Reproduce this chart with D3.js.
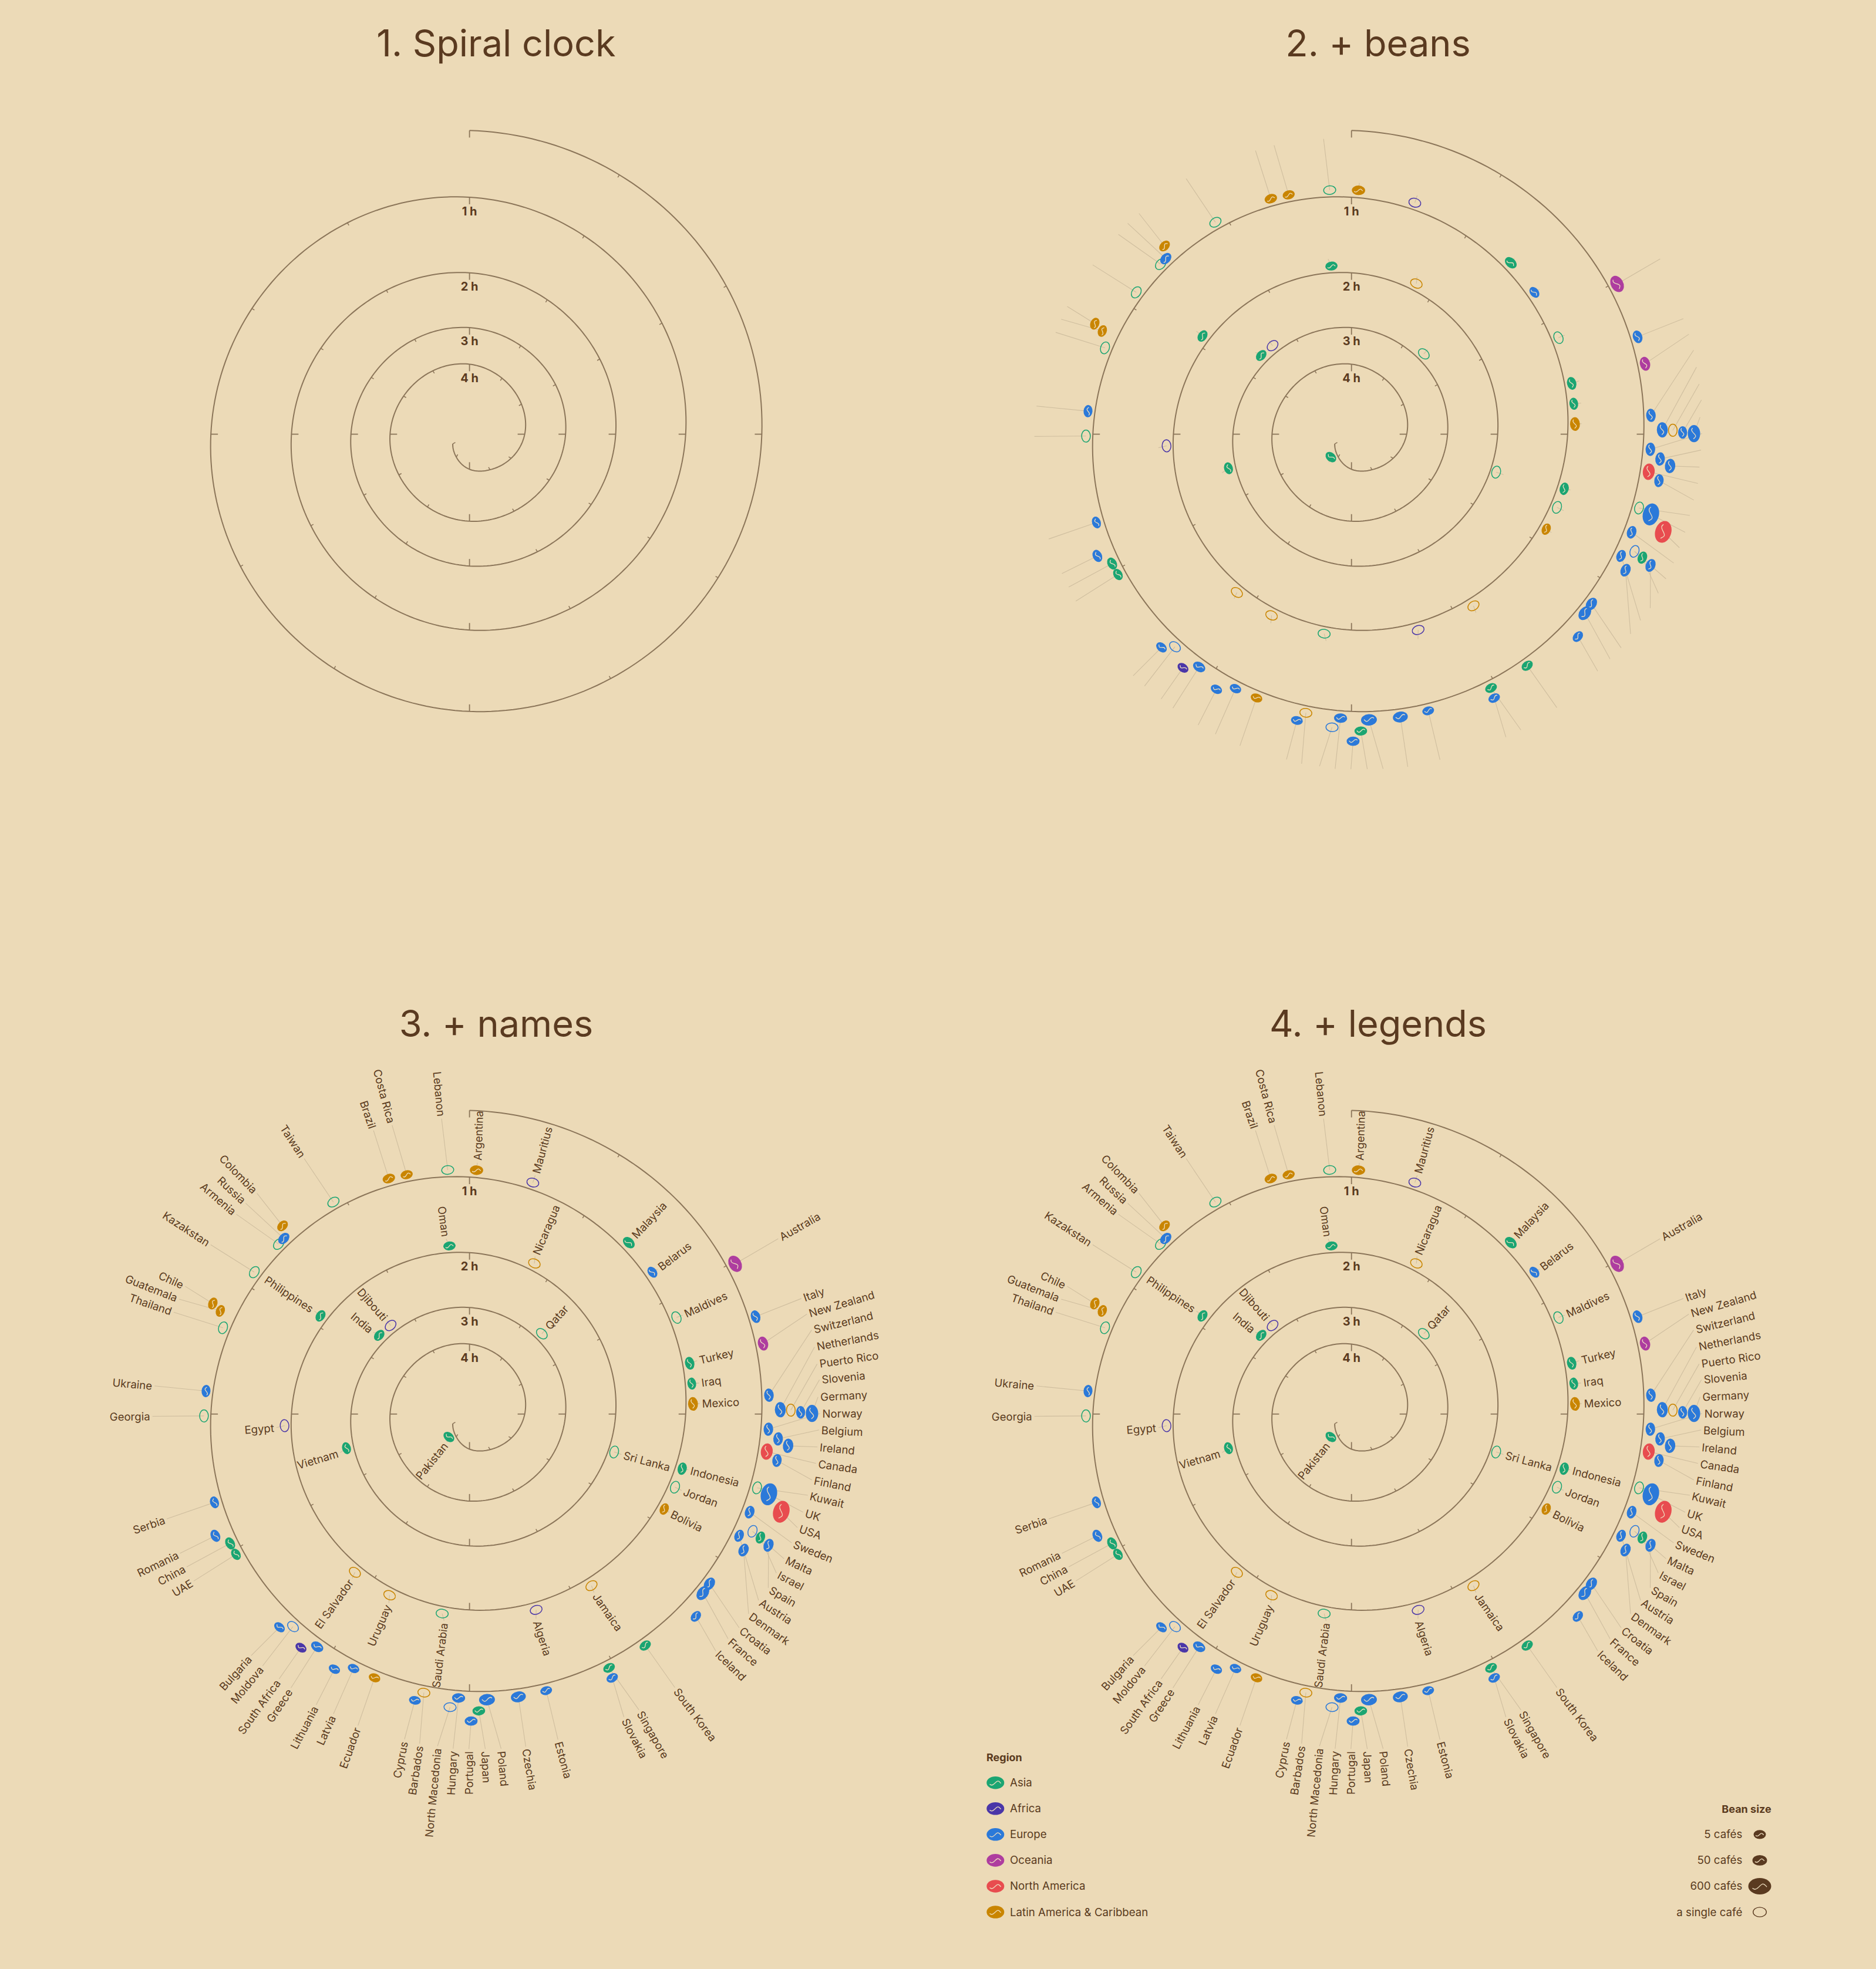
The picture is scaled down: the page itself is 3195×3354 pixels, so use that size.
<!DOCTYPE html>
<html><head><meta charset="utf-8">
<script src="https://cdn.jsdelivr.net/npm/d3@7"></script>
<style>html,body{margin:0;padding:0;background:#ecdab7}svg{display:block}text{font-family:Inter,"Noto Sans",sans-serif}</style>
</head><body><svg id="c"></svg>
<script>
// clock position of the spiral, one sample every 5 minutes (30 degrees)
const spiralRing=[517.3,509.6,505.5,498.2,488.6,480.7,472.9,461,450,441.3,427.6,415.8,
404,390,378,369,354.9,342.4,334.4,321.8,311.5,304,292,282.8,
275.7,264,255.8,249.8,238.9,230.8,225.2,215.8,207,203,192.5,186.6,
182.2,173.5,169.3,164,156.4,151,148.8,143,138.5,136,129.3,124.8,
120.1,109.9,102.1,95,82,69,61.4,43.9,32.9];
const hourLabels=["1 h","2 h","3 h","4 h"];
const titles=["1. Spiral clock","2. + beans","3. + names","4. + legends"];

const countries=["Argentina","Mauritius","Malaysia","Belarus","Australia","Maldives","Italy","New Zealand","Turkey","Iraq","Switzerland","Mexico","Netherlands","Puerto Rico","Slovenia","Germany","Norway","Belgium","Ireland","Canada","Finland","Indonesia","Kuwait","Sri Lanka","UK","USA","Sweden","Jordan","Malta","Israel","Spain","Austria","Bolivia","Denmark","Croatia","France","Iceland","South Korea","Jamaica","Singapore","Slovakia","Algeria","Estonia","Czechia","Poland","Japan","Portugal","Hungary","North Macedonia","Saudi Arabia","Barbados","Cyprus","Ecuador","Uruguay","Latvia","Lithuania","Greece","South Africa","El Salvador","Moldova","Bulgaria","Pakistan","UAE","China","Romania","Serbia","Vietnam","Egypt","Georgia","Ukraine","Thailand","Guatemala","Chile","Kazakstan","Philippines","Armenia","India","Russia","Colombia","Djibouti","Taiwan","Brazil","Costa Rica","Oman","Lebanon","Nicaragua","Qatar"];
const countryRegion=["L","F","A","E","O","A","E","O","A","A","E","L","E","L","E","E","E","E","E","N","E","A","A","A","E","N","E","A","E","A","E","E","L","E","E","E","E","A","L","A","E","F","E","E","E","A","E","E","E","A","L","E","L","L","E","E","E","F","L","E","E","A","A","A","E","E","A","F","A","E","A","L","L","A","A","A","A","E","L","F","A","L","L","A","A","L","A"];
const cafes=[18,1,18,2,158,1,12,35,12,3,18,27,70,1,7,158,18,18,44,118,12,7,1,1,540,540,12,1,1,7,18,7,2,18,27,70,3,5,1,5,3,1,2,62,93,9,12,15,1,1,1,2,2,1,2,2,15,2,1,1,2,3,3,9,9,3,3,1,1,5,1,3,5,1,5,1,5,12,5,1,1,10,5,5,1,1,1];
const beanClock=[1.65,15.3,42.9,52.2,60.5,65,71.2,76.5,77,82.2,86.4,87.4,89.2,89.3,89.7,89.9,92.9,94.6,95.7,97.2,98.6,104.4,104.4,104.7,105,107.4,109.3,109.6,112.5,113,113.7,114.3,116,116.4,125.3,127.5,131.8,142.8,144.6,151.2,151.6,161.2,164.5,170.2,176.5,178.2,179.7,182.2,183.8,187.8,189.3,190.8,199.8,203.8,204.5,207.9,213.2,215.8,215.9,219.7,221.7,222,239,241.6,244.4,250.9,254.5,266.4,269.6,275,289.3,292.5,293.3,303.4,303.4,311.7,311.1,313.4,315.2,318.3,327.3,341.1,345.3,353.2,354.9,23.3,42];
const beanRing=[415.6,408.8,398.6,394.2,519.7,388.9,514.7,514.1,384.9,382.1,511,381,529.4,547.3,564,583.3,509.7,527.3,545.3,510.3,529.6,374,505.6,254.7,527.9,556.4,505.5,371.5,521.7,538.2,556.2,503.8,369,521.1,500.6,500.9,517.2,495,358.6,493.4,511,352.3,489,488.9,487.5,505.9,523,484,500.4,343,480.9,496.5,477.5,337.3,476.3,491.7,473.8,490.7,332.8,470.6,486.4,52.5,464,463.4,479.9,459.7,217.4,315.6,452.2,450.4,444.8,459.3,476,439,303.9,435.3,204,435.3,451.8,202,429,424,421.5,288.4,417.4,279.4,184.1];
const labelClock=[1.8,15.4,42.8,52.4,60.4,65.1,70.8,73.5,76.8,82.3,76.2,87.4,79,81.8,84.4,87.2,89.9,92.6,95.4,98.1,100.9,104.3,103.5,104.9,106.4,109.1,111.8,109.8,114.7,117.4,120.2,122.8,116.2,125.6,128.4,131,133.9,143.1,145.1,150.2,153,162,164.8,170.4,174.6,177.3,180.1,182.8,185.5,187,188.6,191.3,199.7,203.1,204.4,207.8,213.1,215.7,215.5,219.4,222.1,218.9,238.8,241.6,244.3,250.9,253.4,266,269.6,275.1,289,291.6,294.2,303.2,303.6,310.6,310.4,313.3,316.1,318.5,327.1,341.3,345,352.4,354.6,22.6,42];
const labelRing=[432.2,425.7,411.8,407.9,608.6,404.3,602.5,603.2,402.3,398.6,604,396.4,602.6,602.2,602.9,598.3,601,599.9,599.3,600,597.8,388.7,596.6,271.8,596.4,595,595,387.9,593.6,592.6,592.7,589.7,383.5,588.6,590,587.5,586,586.5,374.5,584.7,583.2,370.5,578.7,578.6,576.6,575.2,574.6,574.7,572.2,358.7,571.8,569,567.7,354,565,563.9,560.9,559.6,348.1,559.2,558.6,65.3,553,551.5,551.3,549.6,233.8,333.6,544,542.6,536.8,535.8,534.8,530.8,321.2,526.9,219,527.7,526,216,522.3,514,513.5,305,509.4,294.7,197.8];

const regionKeys=["A","F","E","O","N","L"];
const regionNames=["Asia","Africa","Europe","Oceania","North America","Latin America & Caribbean"];
const regionColors=["#1ba572","#4a36a8","#2b79d9","#ae3d9f","#e84c4f","#c98500"];
const sizeCafes=[5,50,600,1];
const sizeNames=["5 cafés","50 cafés","600 cafés","a single café"];

const W=3195,H=3354, bg="#ecdab7", ink="#5a3a20", axisCol="#8b7559", leadCol="#cfbe9f", wave="#efdfc0";
const svg=d3.select("#c").attr("width",W).attr("height",H).attr("viewBox",[0,0,W,H]);
svg.append("rect").attr("width",W).attr("height",H).attr("fill",bg);

const clock=d3.scaleLinear().domain([0,360]).range([0,2*Math.PI]);
const ring=d3.scaleLinear().domain([0,620]).range([0,620]);
const beanLen=d3.scaleSqrt().domain([0,600]).range([9.6,19.5]);
const region=d3.scaleOrdinal().domain(regionKeys).range(regionColors);
const at=(deg,r)=>d3.pointRadial(clock(deg),ring(r));
const rows=countries.map((name,i)=>({name,reg:countryRegion[i],cafes:cafes[i],ba:beanClock[i],br:beanRing[i],la:labelClock[i],lr:labelRing[i]}));

// the spiral is drawn as a smooth radius-over-angle curve through the samples
const lastStep=spiralRing.length-1;
const smoothRing=d3.interpolateBasis(spiralRing);
const stepDeg=d3.scaleLinear().domain([0,lastStep]).range([0,lastStep*30]);
const spiralSteps=d3.range(0,lastStep+.001,.05);

function wavePath(rx,ry){
  const p=(x,y)=>`${x*rx},${y*ry}`;
  return `M${p(-.62,.26)}C${p(-.5,.42)} ${p(-.3,.4)} ${p(-.1,.12)}C${p(.05,-.1)} ${p(.2,-.32)} ${p(.33,-.26)}C${p(.45,-.22)} ${p(.52,-.05)} ${p(.6,.06)}`;
}
function bean(g,deg,rx,color,filled,sw){
  const ry=rx*.72;
  const b=g.append("g").attr("transform",`rotate(${deg})`);
  if(filled){
    b.append("ellipse").attr("rx",rx).attr("ry",ry).attr("fill",color);
    b.append("path").attr("d",wavePath(rx,ry)).attr("fill","none").attr("stroke",wave).attr("stroke-width",1.3).attr("stroke-linecap","round");
  } else {
    b.append("ellipse").attr("rx",rx).attr("ry",ry).attr("fill","none").attr("stroke",color).attr("stroke-width",sw||1.5);
  }
}
function panel(cx,cy,tx,ty,title,showBeans,showNames){
  svg.append("text").attr("x",tx).attr("y",ty).attr("text-anchor","middle").attr("dominant-baseline","central")
    .attr("font-size",63).attr("font-weight",400).attr("fill",ink).text(title);
  const g=svg.append("g").attr("transform",`translate(${cx},${cy})`);
  const line=d3.lineRadial().angle(s=>clock(stepDeg(s))).radius(s=>ring(smoothRing(s/lastStep)));
  g.append("path").attr("d",line(spiralSteps)).attr("fill","none").attr("stroke",axisCol).attr("stroke-width",2);
  spiralRing.forEach((_,i)=>{
    const major=i%3===0, len=major?12:5, a=stepDeg(i), r=smoothRing(i/lastStep);
    const [x1,y1]=at(a,r),[x2,y2]=at(a,r-len);
    g.append("line").attr("x1",x1).attr("y1",y1).attr("x2",x2).attr("y2",y2).attr("stroke",axisCol).attr("stroke-width",major?1.8:1.5);
  });
  hourLabels.forEach((h,i)=>{
    const [x,y]=at(0,spiralRing[(i+1)*12]-24);
    g.append("text").attr("x",x).attr("y",y).attr("text-anchor","middle").attr("dominant-baseline","central")
      .attr("font-size",20).attr("font-weight",700).attr("fill",ink).text(h);
  });
  if(showBeans){
    rows.forEach(d=>{
      const [x1,y1]=at(d.ba,d.br),[x2,y2]=at(d.la,d.lr-4);
      g.append("line").attr("x1",x1).attr("y1",y1).attr("x2",x2).attr("y2",y2).attr("stroke",leadCol).attr("stroke-width",1.1);
    });
    rows.forEach(d=>{
      const [x,y]=at(d.ba,d.br);
      const bg1=g.append("g").attr("transform",`translate(${x},${y})`);
      if(d.cafes>1) bean(bg1,d.ba,beanLen(d.cafes),region(d.reg),true);
      else bean(bg1,d.ba,10.3,region(d.reg),false);
    });
  }
  if(showNames){
    rows.forEach(d=>{
      const [x,y]=at(d.la,d.lr), right=d.la<180;
      g.append("text").attr("transform",`translate(${x},${y}) rotate(${right?d.la-90:d.la+90})`)
        .attr("text-anchor",right?"start":"end").attr("dominant-baseline","central")
        .attr("font-size",18.6).attr("font-weight",400).attr("fill",ink).text(d.name);
    });
  }
}
panel(799.6,739.6,845,73,titles[0],false,false);
panel(2301.7,739.6,2347,73,titles[1],true,false);
panel(799.6,2408.7,845,1743,titles[2],true,true);
panel(2301.7,2408.7,2347,1743,titles[3],true,true);

// legends
const leg=svg.append("g");
const rowY=d3.scaleLinear().domain([0,5]).range([3036.7,3257]);
leg.append("text").attr("x",1680).attr("y",2993).attr("dominant-baseline","central").attr("font-size",18).attr("font-weight",700).attr("fill",ink).text("Region");
regionNames.forEach((n,i)=>{
  const y=rowY(i);
  bean(leg.append("g").attr("transform",`translate(1695.3,${y})`),0,15,regionColors[i],true);
  leg.append("text").attr("x",1720).attr("y",y).attr("dominant-baseline","central").attr("font-size",18.7).attr("fill",ink).text(n);
});
leg.append("text").attr("x",3016.7).attr("y",3081.7).attr("text-anchor","end").attr("dominant-baseline","central").attr("font-size",18).attr("font-weight",700).attr("fill",ink).text("Bean size");
sizeNames.forEach((n,i)=>{
  const y=rowY(i+2);
  const g=leg.append("g").attr("transform",`translate(2997,${y})`);
  if(sizeCafes[i]>1) bean(g,0,beanLen(sizeCafes[i]),ink,true);
  else bean(g,0,11.3,ink,false,1.4);
  leg.append("text").attr("x",2967.3).attr("y",y).attr("text-anchor","end").attr("dominant-baseline","central").attr("font-size",18.7).attr("fill",ink).text(n);
});
</script></body></html>
